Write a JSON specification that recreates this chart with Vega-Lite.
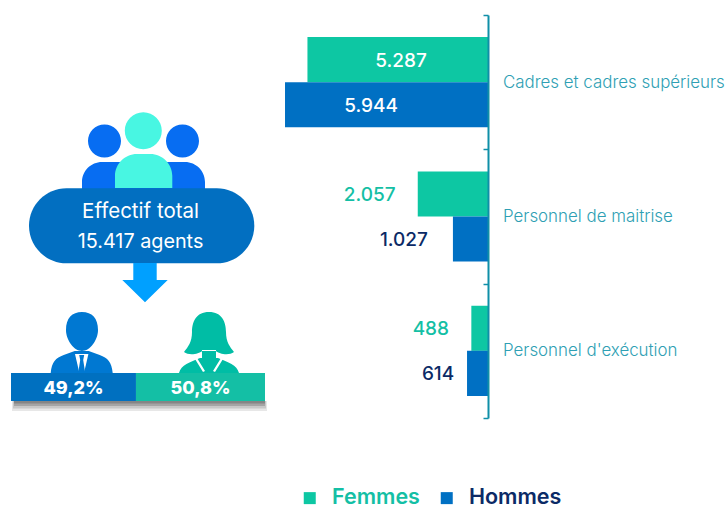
{
"$schema":"https://vega.github.io/schema/vega-lite/v6.json",
"width":725,"height":506,"padding":0,"autosize":{"type":"none"},
"background":"white",
"view":{"stroke":null},
"config":{"font":"Inter","view":{"stroke":null}},
"datasets":{
"effectifs":[
{"categorie":"Cadres et cadres supérieurs","genre":"Femmes","valeur":5287,"label":"5.287"},
{"categorie":"Cadres et cadres supérieurs","genre":"Hommes","valeur":5944,"label":"5.944"},
{"categorie":"Personnel de maitrise","genre":"Femmes","valeur":2057,"label":"2.057"},
{"categorie":"Personnel de maitrise","genre":"Hommes","valeur":1027,"label":"1.027"},
{"categorie":"Personnel d'exécution","genre":"Femmes","valeur":488,"label":"488"},
{"categorie":"Personnel d'exécution","genre":"Hommes","valeur":614,"label":"614"}],
"figures":[
{"figure":"ombre 1"},{"figure":"ombre 2"},{"figure":"ombre 3"},{"figure":"ombre 4"},
{"figure":"groupe"},{"figure":"centre"},{"figure":"bulle"},{"figure":"fleche"},
{"figure":"homme"},{"figure":"chemise"},{"figure":"cravate"},{"figure":"femme"},{"figure":"col"}],
"parts":[{"genre":"Hommes","part":49.2,"ordre":1,"label":"49,2%"},{"genre":"Femmes","part":50.8,"ordre":2,"label":"50,8%"}],
"total":[{"texte":"Effectif total"},{"texte":"15.417 agents"}]
},
"layer":[
{"data":{"name":"figures"},
 "mark":{"type":"point","filled":true,"size":4,"opacity":1,"strokeWidth":0},
 "encoding":{
  "shape":{"field":"figure","type":"nominal","legend":null,"scale":{
   "domain":["ombre 1","ombre 2","ombre 3","ombre 4","groupe","centre","bulle","fleche","homme","chemise","cravate","femme","col"],
   "range":[
   "M-350.5 148h255v10h-255z",
   "M-349.5 148h253v7.5h-253z",
   "M-348.5 148h251v5h-251z",
   "M-348.5 148h251v2.5h-251z",
   "M-274.5 -112a16.5 16.5 0 1 0 33 0a16.5 16.5 0 1 0 -33 0zM-196.5 -112a16.5 16.5 0 1 0 33 0a16.5 16.5 0 1 0 -33 0zM-280.5 -63v-8a20 20 0 0 1 20 -20h83a20 20 0 0 1 20 20v8z",
   "M-237.7 -122.3a18.5 18.5 0 1 0 37 0a18.5 18.5 0 1 0 -37 0zM-247.5 -65v-12a22 22 0 0 1 22 -22h13.3a22 22 0 0 1 22 22v12z",
   "M-296 -64.7h150.3a37.5 37.5 0 0 1 0 75h-150.3a37.5 37.5 0 0 1 0 -75z",
   "M-229.2 10h23.4v17h11l-22.7 22.3l-22.7 -22.3h11z",
   "M-296.5 77c0 -12 6 -18 16 -18c10 0 16 6 16 18c0 10 -8 21 -16 21c-8 0 -16 -11 -16 -21zM-311.8 120c1 -11 5 -15 13 -18l11 -4h14l11 4c8 3 12 7 13 18z",
   "M-287.5 101h13.4l-4.4 19h-4.6z",
   "M-283.3 102h5l-1 5l2 13h-7l2 -13z",
   "M-153.5 59c-13 0 -17 10 -17 20c0 10 -4 15 -8 20c5 4 15 2 18 -1h14c3 3 13 5 18 1c-4 -5 -8 -10 -8 -20c0 -10 -4 -20 -17 -20zM-183.5 120c2 -8 11 -11 21 -15h18c10 4 19 7 21 15zM-160.5 97h14v10h-14z",
   "M-165.5 105l8 13l-2 1l-8 -13zM-141.5 105l-8 13l2 1l8 -13z"
   ]}},
  "color":{"field":"figure","type":"nominal","legend":null,"scale":{
   "domain":["ombre 1","ombre 2","ombre 3","ombre 4","groupe","centre","bulle","fleche","homme","chemise","cravate","femme","col"],
   "range":["rgba(60,60,60,0.12)","rgba(60,60,60,0.18)","rgba(60,60,60,0.25)","rgba(60,60,60,0.3)","#076DF2","#48F6E2","#026FC1","#00A0FF","#0078D2","#FFFFFF","#0078D2","#00BDA5","#FFFFFF"]}}
 }},
{"data":{"name":"parts"},
 "encoding":{
  "x":{"field":"part","type":"quantitative","stack":"zero","axis":null,"scale":{"domain":[0,100],"range":[11,265],"nice":false,"zero":false}},
  "y":{"datum":"bandeau","type":"nominal","axis":null,"scale":{"range":[373,401],"paddingInner":0,"paddingOuter":0}},
  "order":{"field":"ordre"}
 },
 "layer":[
  {"mark":{"type":"bar","opacity":1},
   "encoding":{"color":{"field":"genre","type":"nominal","legend":null,"scale":{"domain":["Hommes","Femmes"],"range":["#0070C0","#14BFA5"]}}}},
  {"mark":{"type":"text","fill":"#FFFFFF","fontSize":18,"fontWeight":800,"dy":2},
   "encoding":{"x":{"field":"part","type":"quantitative","stack":"zero","bandPosition":0.5},"detail":{"field":"genre"},"text":{"field":"label"}}}
 ]},
{"data":{"name":"total"},
 "encoding":{
  "x":{"datum":51,"type":"quantitative","axis":null,"scale":{"domain":[0,100],"range":[11,265],"nice":false,"zero":false}},
  "y":{"field":"texte","type":"nominal","axis":null,"sort":["Effectif total","15.417 agents"],"scale":{"type":"point","range":[212,242],"padding":0}},
  "text":{"field":"texte"},
  "size":{"field":"texte","type":"nominal","legend":null,"scale":{"domain":["Effectif total","15.417 agents"],"range":[20.5,19.8]}},
  "fontWeight":{"field":"texte","legend":null,"scale":{"domain":["Effectif total","15.417 agents"],"range":[300,500]}}
 },
 "mark":{"type":"text","fill":"#FFFFFF"}
},
{"data":{"name":"effectifs"},
 "encoding":{
  "x":{"field":"valeur","type":"quantitative","axis":null,"scale":{"domain":[14290,-6940],"nice":false,"zero":false}},
  "y":{"field":"categorie","type":"nominal","title":null,
   "scale":{"domain":["Cadres et cadres supérieurs","Personnel de maitrise","Personnel d'exécution"],"range":[15,418],"paddingInner":0,"paddingOuter":0},
   "axis":{"orient":"left","offset":-488,"tickBand":"extent","tickSize":5,"tickWidth":1.5,"tickColor":"#0F8FA8","domainColor":"#0F8FA8","domainWidth":2,"labelPadding":-19.5,"labelAlign":"left","labelBaseline":"middle","labelColor":"#2F9FB4","labelFontSize":16.9,"labelFontWeight":300,"labelLimit":300,"zindex":1,"grid":false}},
  "yOffset":{"field":"genre","type":"nominal","scale":{"domain":["Femmes","Hommes"],"paddingInner":0,"paddingOuter":0.49}}
 },
 "layer":[
  {"mark":{"type":"bar"},
   "encoding":{"color":{"field":"genre","type":"nominal",
    "scale":{"domain":["Femmes","Hommes"],"range":["#0DC7A3","#0070C3"]},
    "legend":{"orient":"none","legendX":299,"legendY":487,"direction":"horizontal","title":null,"symbolType":"square","symbolSize":144,"symbolStrokeWidth":0,"symbolOpacity":1,"labelFontSize":21.5,"labelFontWeight":600,"labelOffset":11.5,"labelLimit":300,"columnPadding":16,"labelColor":{"expr":"datum.label=='Femmes'?'#14BFA5':'#0B2A66'"}}}}},
  {"mark":{"type":"text","fontSize":19,"fontWeight":500,"dy":1,
    "dx":{"expr":"datum.valeur==5287?93.5:datum.valeur==5944?86:datum.valeur==2057?-48:datum.valeur==1027?-49:datum.valeur==488?-40.5:-29"}},
   "encoding":{"text":{"field":"label"},
    "fill":{"condition":[{"test":"datum.valeur>3000","value":"#FFFFFF"},{"test":"datum.genre=='Femmes'","value":"#14BFA5"}],"value":"#0B2A66"}}}
 ]}
],
"resolve":{"scale":{"x":"independent","y":"independent","color":"independent","shape":"independent","size":"independent"}}
}
